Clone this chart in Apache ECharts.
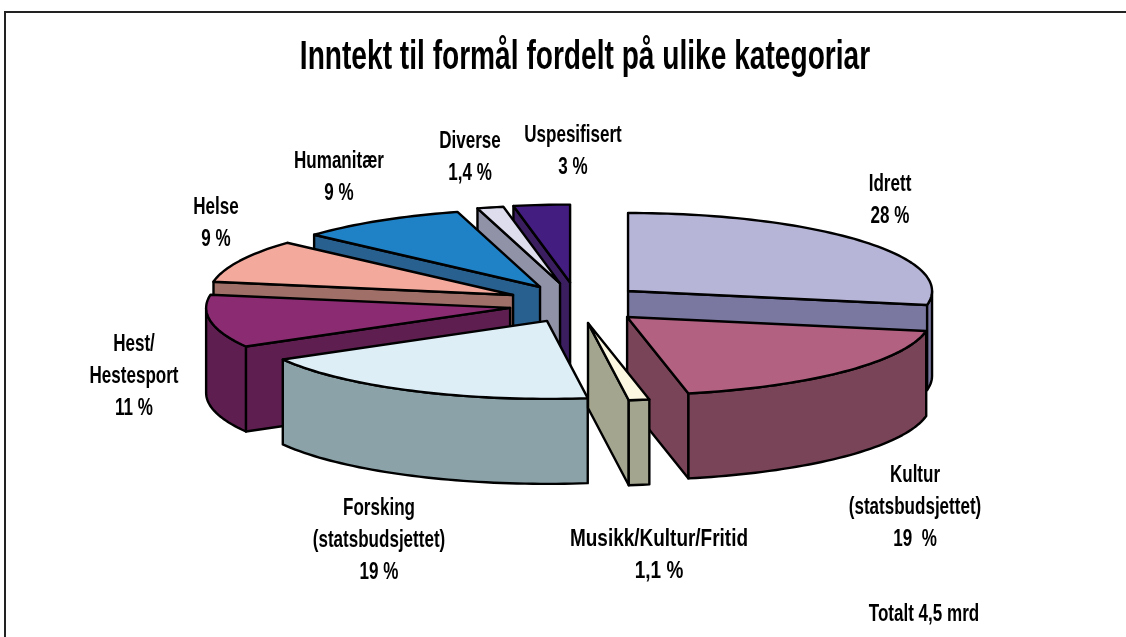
<!DOCTYPE html>
<html><head><meta charset="utf-8">
<style>html,body{margin:0;padding:0;background:#fff}#c{width:1126px;height:637px}</style>
<script src="https://cdn.jsdelivr.net/npm/echarts@6/dist/echarts.min.js"></script>
</head><body><div id="c"></div>
<script>
// ---- data ----
const categories = ['Idrett','Kultur (statsbudsjettet)','Musikk/Kultur/Fritid','Forsking (statsbudsjettet)','Hest/ Hestesport','Helse','Humanitær','Diverse','Uspesifisert'];
const shares = [28, 19, 1.1, 19, 11, 9, 9, 1.4, 3];
const titleText = 'Inntekt til formål fordelt på ulike kategoriar';
const totalText = 'Totalt 4,5 mrd';

// ---- styles and layout, separate from the data ----
const explodeX = [0.223, 0.235, 0.235, 0.215, 0.22, 0.23, 0.224, 0.229, 0.207];
const explodeY = [0.22, 0.275, 0.273, 0.27, 0.44, 0.206, 0.227, 0.245, 0.25];
const topFill  = ['#B7B5D7','#B26280','#FBF7E0','#DDEEF7','#8B2C72','#F3A99C','#1F82C6','#DEDDEE','#431D80'];
const sideFill = ['#7A78A0','#7A4458','#A3A58F','#8AA2A8','#5E1F50','#A07068','#286090','#9092A8','#3B1E60'];
const labelLines = [
  ['Idrett','28 %'],['Kultur','(statsbudsjettet)','19  %'],['Musikk/Kultur/Fritid','1,1 %'],
  ['Forsking','(statsbudsjettet)','19 %'],['Hest/','Hestesport','11 %'],['Helse','9 %'],
  ['Humanitær','9 %'],['Diverse','1,4 %'],['Uspesifisert','3 %']];
const labelAnchor = [[890,184],[915,475],[659,539],[379,508],[134,344],[216,207],[339,161],[470,141],[573,135]];
const labelScale = [0.71,0.71,0.79,0.71,0.71,0.71,0.71,0.71,0.71];
const lineGap = 32;
const pie = {cx:576, cy:302, rx:304, ry:78, h:85};
const font = '"Liberation Sans",sans-serif';

const sum = shares.reduce((a,b)=>a+b,0);
let acc = 0;
const slices = shares.map((v,i)=>{
  const a0 = acc/sum*360; acc += v; const a1 = acc/sum*360;
  const m = (a0+a1)/2*Math.PI/180;
  return {i, a0, a1, ax: pie.cx+explodeX[i]*pie.rx*Math.sin(m), ay: pie.cy-explodeY[i]*pie.ry*Math.cos(m)};
});
const drawOrder = slices.slice().sort((p,q)=>p.ay-q.ay).map(s=>s.i);

function rim(s,d){const t=d*Math.PI/180;return [s.ax+pie.rx*Math.sin(t), s.ay-pie.ry*Math.cos(t)];}
function arc(s,from,to){const n=Math.max(2,Math.ceil((to-from)/1.5));const r=[];for(let k=0;k<=n;k++)r.push(rim(s,from+(to-from)*k/n));return r;}
const down = p=>[p[0],p[1]+pie.h];
const stroke = {stroke:'#000',lineWidth:2.4,lineJoin:'round'};

function renderSlice(params,api){
  const s = slices[api.value(0)], kids=[];
  const poly = (pts,fill)=>kids.push({type:'polygon',shape:{points:pts},style:Object.assign({fill},stroke)});
  const apex=[s.ax,s.ay], side=sideFill[s.i];
  if(Math.sin(s.a0*Math.PI/180)<0){const r=rim(s,s.a0);poly([apex,r,down(r),down(apex)],side);}
  if(Math.sin(s.a1*Math.PI/180)>0){const r=rim(s,s.a1);poly([apex,r,down(r),down(apex)],side);}
  const f=Math.max(s.a0,90), t=Math.min(s.a1,270);
  if(t>f){const a=arc(s,f,t);poly(a.concat(a.map(down).reverse()),side);}
  poly([apex].concat(arc(s,s.a0,s.a1)),topFill[s.i]);
  return {type:'group',children:kids};
}

const textStyle = {fontFamily:font,fontWeight:'bold',fontSize:24,fill:'#000',align:'center',verticalAlign:'middle'};
const graphics = [{type:'polyline',shape:{points:[[5,637],[5,12],[1126,12]]},style:{stroke:'#222',lineWidth:2,fill:null},silent:true}];
graphics.push({type:'text',x:585,y:58,scaleX:0.703,silent:true,style:Object.assign({},textStyle,{text:titleText,fontSize:40})});
labelLines.forEach((lines,i)=>lines.forEach((t,k)=>graphics.push({type:'text',x:labelAnchor[i][0],y:labelAnchor[i][1]+k*lineGap,scaleX:labelScale[i],style:Object.assign({text:t},textStyle),silent:true})));
graphics.push({type:'text',x:924,y:614,scaleX:0.71,style:Object.assign({text:totalText},textStyle),silent:true});

const chart = echarts.init(document.getElementById('c'),null,{renderer:'canvas'});
chart.setOption({
  animation:false,
  backgroundColor:'#fff',
  series:[{type:'custom',coordinateSystem:'none',renderItem:renderSlice,silent:true,
    data:drawOrder.map(i=>({name:categories[i],value:[i,shares[i]]}))}],
  graphic:graphics
});
</script></body></html>
